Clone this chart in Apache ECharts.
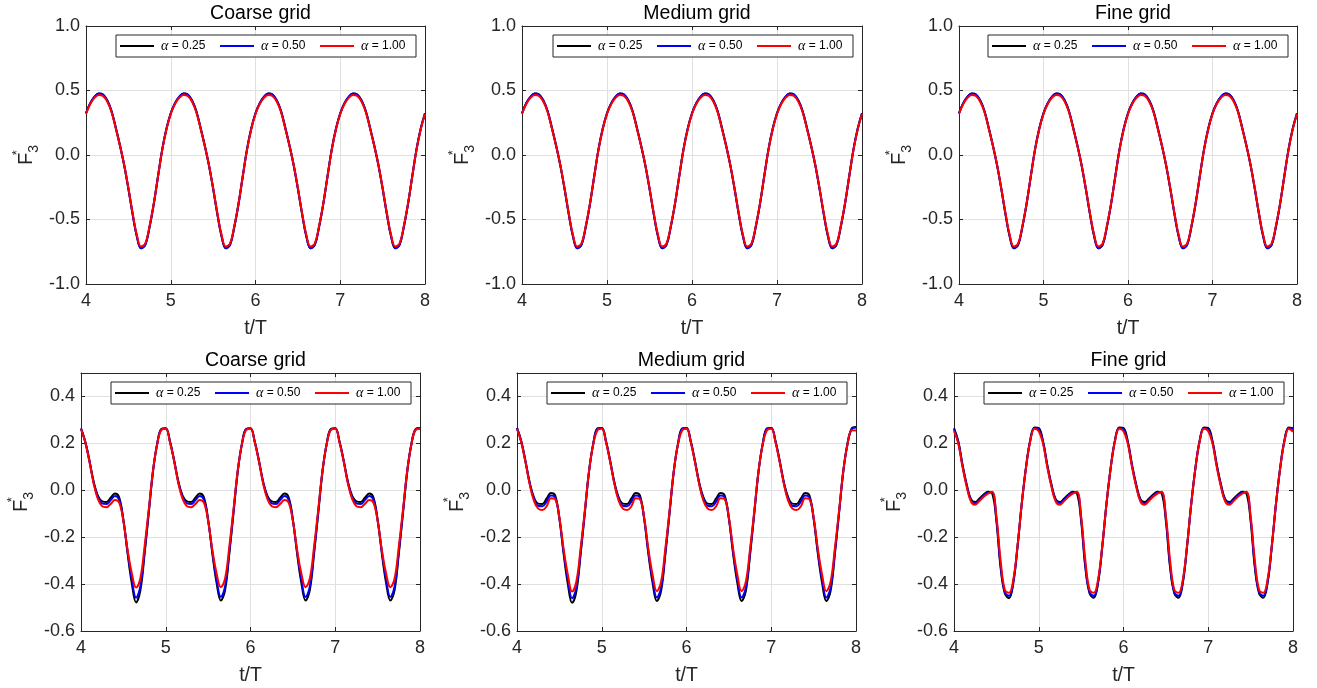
<!DOCTYPE html>
<html><head><meta charset="utf-8">
<script src="https://cdn.jsdelivr.net/npm/echarts@6/dist/echarts.min.js"></script>
<style>html,body{margin:0;padding:0;background:#fff}#c{width:1317px;height:688px}</style>
</head><body><div id="c"></div>
<script>
// ---------------- DATA ----------------
const tValues = [
4.00,4.05,4.10,4.15,4.20,4.25,4.30,4.35,4.40,4.45,4.50,4.55,4.60,4.65,4.70,4.75,4.80,4.85,4.90,4.95,
5.00,5.05,5.10,5.15,5.20,5.25,5.30,5.35,5.40,5.45,5.50,5.55,5.60,5.65,5.70,5.75,5.80,5.85,5.90,5.95,
6.00,6.05,6.10,6.15,6.20,6.25,6.30,6.35,6.40,6.45,6.50,6.55,6.60,6.65,6.70,6.75,6.80,6.85,6.90,6.95,
7.00,7.05,7.10,7.15,7.20,7.25,7.30,7.35,7.40,7.45,7.50,7.55,7.60,7.65,7.70,7.75,7.80,7.85,7.90,7.95,
8.00];
const seriesNames = ['α = 0.25', 'α = 0.50', 'α = 1.00'];
const panelTitles = ['Coarse grid', 'Medium grid', 'Fine grid', 'Coarse grid', 'Medium grid', 'Fine grid'];
const xTicks = [4, 5, 6, 7, 8];
const yTicksTop = [-1.0, -0.5, 0.0, 0.5, 1.0];
const yTicksBottom = [-0.6, -0.4, -0.2, 0.0, 0.2, 0.4];
const yMaxBottom = 0.5;

// top row (all three grids look the same)
const topA025 = [
0.323,0.401,0.451,0.476,0.468,0.424,0.342,0.215,0.076,-0.078,-0.261,-0.458,-0.631,-0.723,-0.696,-0.558,-0.379,-0.164,0.044,0.205,
0.323,0.401,0.451,0.476,0.468,0.424,0.342,0.215,0.076,-0.078,-0.261,-0.458,-0.631,-0.723,-0.696,-0.558,-0.379,-0.164,0.044,0.205,
0.323,0.401,0.451,0.476,0.468,0.424,0.342,0.215,0.076,-0.078,-0.261,-0.458,-0.631,-0.723,-0.696,-0.558,-0.379,-0.164,0.044,0.205,
0.323,0.401,0.451,0.476,0.468,0.424,0.342,0.215,0.076,-0.078,-0.261,-0.458,-0.631,-0.723,-0.696,-0.558,-0.379,-0.164,0.044,0.205,
0.323];
const topA050 = [
0.324,0.402,0.452,0.477,0.469,0.425,0.343,0.216,0.077,-0.077,-0.260,-0.458,-0.630,-0.722,-0.695,-0.557,-0.378,-0.163,0.045,0.206,
0.324,0.402,0.452,0.477,0.469,0.425,0.343,0.216,0.077,-0.077,-0.260,-0.458,-0.630,-0.722,-0.695,-0.557,-0.378,-0.163,0.045,0.206,
0.324,0.402,0.452,0.477,0.469,0.425,0.343,0.216,0.077,-0.077,-0.260,-0.458,-0.630,-0.722,-0.695,-0.557,-0.378,-0.163,0.045,0.206,
0.324,0.402,0.452,0.477,0.469,0.425,0.343,0.216,0.077,-0.077,-0.260,-0.458,-0.630,-0.722,-0.695,-0.557,-0.378,-0.163,0.045,0.206,
0.324];
const topA100 = [
0.318,0.395,0.443,0.466,0.458,0.415,0.335,0.210,0.075,-0.075,-0.255,-0.450,-0.620,-0.710,-0.685,-0.550,-0.375,-0.165,0.040,0.200,
0.318,0.395,0.443,0.466,0.458,0.415,0.335,0.210,0.075,-0.075,-0.255,-0.450,-0.620,-0.710,-0.685,-0.550,-0.375,-0.165,0.040,0.200,
0.318,0.395,0.443,0.466,0.458,0.415,0.335,0.210,0.075,-0.075,-0.255,-0.450,-0.620,-0.710,-0.685,-0.550,-0.375,-0.165,0.040,0.200,
0.318,0.395,0.443,0.466,0.458,0.415,0.335,0.210,0.075,-0.075,-0.255,-0.450,-0.620,-0.710,-0.685,-0.550,-0.375,-0.165,0.040,0.200,
0.318];

// bottom row
const botCoarseA025 = [
0.264,0.208,0.126,0.035,-0.024,-0.047,-0.050,-0.032,-0.014,-0.030,-0.125,-0.270,-0.398,-0.478,-0.428,-0.272,-0.095,0.080,0.200,0.262,
0.264,0.208,0.126,0.035,-0.024,-0.047,-0.050,-0.032,-0.014,-0.030,-0.125,-0.270,-0.395,-0.470,-0.425,-0.270,-0.095,0.080,0.200,0.262,
0.264,0.208,0.126,0.035,-0.024,-0.047,-0.050,-0.032,-0.014,-0.030,-0.125,-0.270,-0.395,-0.470,-0.425,-0.270,-0.095,0.080,0.200,0.262,
0.264,0.208,0.126,0.035,-0.024,-0.047,-0.050,-0.032,-0.014,-0.030,-0.125,-0.270,-0.395,-0.470,-0.425,-0.270,-0.095,0.080,0.200,0.262,
0.266];
const botCoarseA050 = [
0.263,0.207,0.124,0.032,-0.030,-0.056,-0.059,-0.042,-0.024,-0.040,-0.128,-0.262,-0.380,-0.458,-0.410,-0.260,-0.088,0.085,0.200,0.260,
0.263,0.207,0.124,0.032,-0.030,-0.056,-0.059,-0.042,-0.024,-0.040,-0.128,-0.262,-0.380,-0.455,-0.410,-0.260,-0.088,0.085,0.200,0.260,
0.263,0.207,0.124,0.032,-0.030,-0.056,-0.059,-0.042,-0.024,-0.040,-0.128,-0.262,-0.380,-0.455,-0.410,-0.260,-0.088,0.085,0.200,0.260,
0.263,0.207,0.124,0.032,-0.030,-0.056,-0.059,-0.042,-0.024,-0.040,-0.128,-0.262,-0.380,-0.455,-0.410,-0.260,-0.088,0.085,0.200,0.260,
0.264];
const botCoarseA100 = [
0.262,0.205,0.122,0.028,-0.038,-0.068,-0.072,-0.058,-0.042,-0.053,-0.130,-0.255,-0.355,-0.415,-0.376,-0.240,-0.080,0.085,0.198,0.258,
0.262,0.205,0.122,0.028,-0.038,-0.068,-0.072,-0.058,-0.042,-0.053,-0.130,-0.255,-0.355,-0.413,-0.376,-0.240,-0.080,0.085,0.198,0.258,
0.262,0.205,0.122,0.028,-0.038,-0.068,-0.072,-0.058,-0.042,-0.053,-0.130,-0.255,-0.355,-0.413,-0.376,-0.240,-0.080,0.085,0.198,0.258,
0.262,0.205,0.122,0.028,-0.038,-0.068,-0.072,-0.058,-0.042,-0.053,-0.130,-0.255,-0.355,-0.413,-0.376,-0.240,-0.080,0.085,0.198,0.258,
0.262];
const botMediumA025 = [
0.266,0.210,0.125,0.032,-0.030,-0.057,-0.058,-0.035,-0.012,-0.022,-0.120,-0.270,-0.400,-0.480,-0.432,-0.275,-0.098,0.080,0.200,0.264,
0.266,0.210,0.125,0.032,-0.030,-0.057,-0.058,-0.035,-0.012,-0.022,-0.120,-0.270,-0.395,-0.472,-0.430,-0.275,-0.098,0.080,0.200,0.264,
0.266,0.210,0.125,0.032,-0.030,-0.057,-0.058,-0.035,-0.012,-0.022,-0.120,-0.270,-0.395,-0.472,-0.430,-0.275,-0.098,0.080,0.200,0.264,
0.266,0.210,0.125,0.032,-0.030,-0.057,-0.058,-0.035,-0.012,-0.022,-0.120,-0.270,-0.395,-0.472,-0.430,-0.275,-0.098,0.080,0.200,0.264,
0.270];
const botMediumA050 = [
0.265,0.208,0.122,0.030,-0.037,-0.066,-0.068,-0.048,-0.022,-0.030,-0.120,-0.262,-0.380,-0.460,-0.415,-0.265,-0.093,0.082,0.198,0.262,
0.265,0.208,0.122,0.030,-0.037,-0.066,-0.068,-0.048,-0.022,-0.030,-0.120,-0.262,-0.380,-0.457,-0.415,-0.265,-0.093,0.082,0.198,0.262,
0.265,0.208,0.122,0.030,-0.037,-0.066,-0.068,-0.048,-0.022,-0.030,-0.120,-0.262,-0.380,-0.457,-0.415,-0.265,-0.093,0.082,0.198,0.262,
0.265,0.208,0.122,0.030,-0.037,-0.066,-0.068,-0.048,-0.022,-0.030,-0.120,-0.262,-0.380,-0.457,-0.415,-0.265,-0.093,0.082,0.198,0.262,
0.268];
const botMediumA100 = [
0.262,0.205,0.120,0.025,-0.045,-0.078,-0.084,-0.068,-0.034,-0.038,-0.115,-0.250,-0.360,-0.432,-0.390,-0.250,-0.088,0.082,0.196,0.256,
0.262,0.205,0.120,0.025,-0.045,-0.078,-0.084,-0.068,-0.034,-0.038,-0.115,-0.250,-0.360,-0.430,-0.390,-0.250,-0.088,0.082,0.196,0.256,
0.262,0.205,0.120,0.025,-0.045,-0.078,-0.084,-0.068,-0.034,-0.038,-0.115,-0.250,-0.360,-0.430,-0.390,-0.250,-0.088,0.082,0.196,0.256,
0.262,0.205,0.120,0.025,-0.045,-0.078,-0.084,-0.068,-0.034,-0.038,-0.115,-0.250,-0.360,-0.430,-0.390,-0.250,-0.088,0.082,0.196,0.256,
0.255];
const botFineA025 = [
0.265,0.210,0.110,0.025,-0.038,-0.050,-0.035,-0.018,-0.006,-0.012,-0.130,-0.330,-0.440,-0.460,-0.395,-0.240,-0.055,0.100,0.215,0.268,
0.265,0.210,0.110,0.025,-0.038,-0.050,-0.035,-0.018,-0.006,-0.012,-0.130,-0.330,-0.440,-0.458,-0.395,-0.240,-0.055,0.100,0.215,0.268,
0.265,0.210,0.110,0.025,-0.038,-0.050,-0.035,-0.018,-0.006,-0.012,-0.130,-0.330,-0.440,-0.458,-0.395,-0.240,-0.055,0.100,0.215,0.268,
0.265,0.210,0.110,0.025,-0.038,-0.050,-0.035,-0.018,-0.006,-0.012,-0.130,-0.330,-0.440,-0.458,-0.395,-0.240,-0.055,0.100,0.215,0.268,
0.265];
const botFineA050 = [
0.260,0.206,0.106,0.020,-0.043,-0.056,-0.040,-0.022,-0.010,-0.009,-0.120,-0.320,-0.435,-0.450,-0.390,-0.237,-0.055,0.098,0.212,0.266,
0.260,0.206,0.106,0.020,-0.043,-0.056,-0.040,-0.022,-0.010,-0.009,-0.120,-0.320,-0.435,-0.450,-0.390,-0.237,-0.055,0.098,0.212,0.266,
0.260,0.206,0.106,0.020,-0.043,-0.056,-0.040,-0.022,-0.010,-0.009,-0.120,-0.320,-0.435,-0.450,-0.390,-0.237,-0.055,0.098,0.212,0.266,
0.260,0.206,0.106,0.020,-0.043,-0.056,-0.040,-0.022,-0.010,-0.009,-0.120,-0.320,-0.435,-0.450,-0.390,-0.237,-0.055,0.098,0.212,0.266,
0.260];
const botFineA100 = [
0.252,0.200,0.100,0.015,-0.048,-0.062,-0.046,-0.028,-0.014,-0.006,-0.110,-0.300,-0.425,-0.437,-0.380,-0.235,-0.056,0.097,0.210,0.262,
0.252,0.200,0.100,0.015,-0.048,-0.062,-0.046,-0.028,-0.014,-0.006,-0.110,-0.300,-0.425,-0.437,-0.380,-0.235,-0.056,0.097,0.210,0.262,
0.252,0.200,0.100,0.015,-0.048,-0.062,-0.046,-0.028,-0.014,-0.006,-0.110,-0.300,-0.425,-0.437,-0.380,-0.235,-0.056,0.097,0.210,0.262,
0.252,0.200,0.100,0.015,-0.048,-0.062,-0.046,-0.028,-0.014,-0.006,-0.110,-0.300,-0.425,-0.437,-0.380,-0.235,-0.056,0.097,0.210,0.262,
0.250];

const panelData = [
  [topA025, topA050, topA100],
  [topA025, topA050, topA100],
  [topA025, topA050, topA100],
  [botCoarseA025, botCoarseA050, botCoarseA100],
  [botMediumA025, botMediumA050, botMediumA100],
  [botFineA025, botFineA050, botFineA100]
];

// ---------------- LAYOUT / STYLE ----------------
const W = 1317;
const colors = ['#000000', '#0000ff', '#ff0000'];
const SANS = 'Liberation Sans, Arial, Helvetica, sans-serif';
const AX = '#262626';
const GRIDC = '#e0e0e0';
const grids = [
  {left: 86,  top: 26,  width: 339, height: 258},
  {left: 522, top: 26,  width: 340, height: 258},
  {left: 959, top: 26,  width: 338, height: 258},
  {left: 81,  top: 373, width: 339, height: 258},
  {left: 517, top: 373, width: 339, height: 258},
  {left: 954, top: 373, width: 339, height: 258}
];

const option = {
  animation: false,
  backgroundColor: '#ffffff',
  title: [], grid: [], xAxis: [], yAxis: [], legend: [], series: []
};

grids.forEach((g, p) => {
  const isTop = p < 3;
  const yt = isTop ? yTicksTop : yTicksBottom;
  const yMin = yt[0];
  const yMax = isTop ? yt[yt.length - 1] : yMaxBottom;
  const yInt = Math.round((yt[1] - yt[0]) * 100) / 100;

  option.grid.push({left: g.left, top: g.top, width: g.width, height: g.height, containLabel: false, show: false});

  option.title.push({
    text: panelTitles[p],
    left: g.left + g.width / 2,
    top: g.top - 27,
    textAlign: 'center',
    textStyle: {fontFamily: SANS, fontSize: 19.5, fontWeight: 'normal', color: '#000'}
  });

  const tickStyle = {show: true, inside: true, length: 4, lineStyle: {color: AX, width: 1}};
  const lineStyle = {show: true, onZero: false, lineStyle: {color: AX, width: 1}};

  option.xAxis.push({
    type: 'value', gridIndex: p, min: xTicks[0], max: xTicks[xTicks.length - 1], interval: xTicks[1] - xTicks[0],
    axisLine: lineStyle, axisTick: tickStyle,
    axisLabel: {color: AX, fontFamily: SANS, fontSize: 18, margin: 8},
    splitLine: {show: true, lineStyle: {color: GRIDC, width: 1}},
    name: 't/T', nameLocation: 'middle', nameGap: 35,
    nameTextStyle: {color: AX, fontFamily: SANS, fontSize: 19.5}
  });
  option.xAxis.push({
    type: 'value', gridIndex: p, position: 'top', min: xTicks[0], max: xTicks[xTicks.length - 1], interval: xTicks[1] - xTicks[0],
    axisLine: lineStyle, axisTick: tickStyle, axisLabel: {show: false}, splitLine: {show: false}
  });
  option.yAxis.push({
    type: 'value', gridIndex: p, min: yMin, max: yMax, interval: yInt,
    axisLine: lineStyle, axisTick: tickStyle,
    axisLabel: {color: AX, fontFamily: SANS, fontSize: 18, margin: 6, showMaxLabel: isTop,
      formatter: v => (Math.abs(v) < 1e-9 ? 0 : v).toFixed(1)},
    splitLine: {show: true, lineStyle: {color: GRIDC, width: 1}},
    name: '{f|F}{s|*}{b|3}', nameLocation: 'middle', nameGap: 45, nameRotate: 90,
    nameTextStyle: {
      color: AX,
      rich: {
        f: {fontFamily: SANS, fontSize: 20, color: AX, lineHeight: 30, verticalAlign: 'middle'},
        s: {fontFamily: SANS, fontSize: 13, color: AX, width: 0, verticalAlign: 'top', lineHeight: 30},
        b: {fontFamily: SANS, fontSize: 14, color: AX, verticalAlign: 'bottom', lineHeight: 30}
      }
    }
  });
  option.yAxis.push({
    type: 'value', gridIndex: p, position: 'right', min: yMin, max: yMax, interval: yInt,
    axisLine: lineStyle, axisTick: tickStyle, axisLabel: {show: false}, splitLine: {show: false}
  });

  option.legend.push({
    data: seriesNames,
    right: W - (g.left + g.width) + 9,
    top: g.top + 9,
    orient: 'horizontal',
    icon: 'rect',
    itemWidth: 34, itemHeight: 2, itemGap: 9,
    padding: [4, 5, 4, 4],
    backgroundColor: '#ffffff',
    borderColor: AX, borderWidth: 1, borderRadius: 0,
    selectedMode: false,
    formatter: n => '{a|α}{b|' + n.slice(1) + '}',
    textStyle: {
      width: 52, lineHeight: 14,
      rich: {
        a: {fontFamily: 'Liberation Serif, Times New Roman, serif', fontStyle: 'italic', fontSize: 14, color: '#000', padding: [0, 0, 0, 2]},
        b: {fontFamily: SANS, fontSize: 12, color: '#000'}
      }
    }
  });

  panelData[p].forEach((arr, s) => {
    option.series.push({
      type: 'line',
      name: seriesNames[s],
      xAxisIndex: 2 * p, yAxisIndex: 2 * p,
      data: tValues.map((t, i) => [t, arr[i]]),
      showSymbol: false, symbol: 'none',
      smooth: 0.4,
      lineStyle: {color: colors[s], width: 2},
      itemStyle: {color: colors[s]},
      emphasis: {disabled: true},
      z: 2 + s
    });
  });
});

const chart = echarts.init(document.getElementById('c'), null, {renderer: 'canvas'});
chart.setOption(option);
</script>
</body></html>
